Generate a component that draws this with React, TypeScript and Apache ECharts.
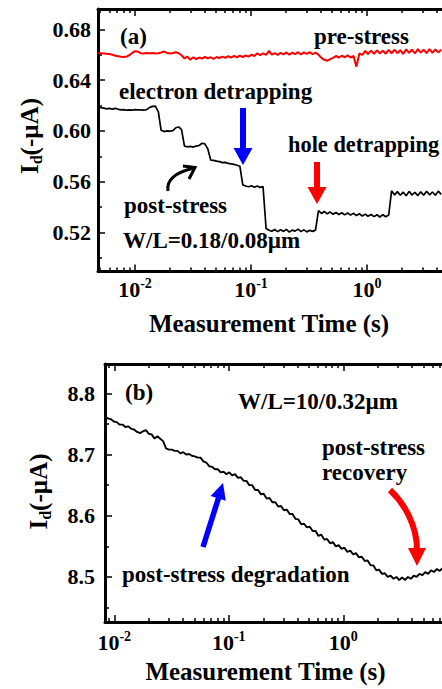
import React, { useEffect, useRef } from "react";
import * as echarts from "echarts";

// ---------- data (panel a) ----------
const TIME_A = [
  0.0048, 0.0051, 0.0054, 0.0057, 0.006, 0.0064, 0.0068, 0.0072, 0.0076, 0.008,
  0.0085, 0.009, 0.0095, 0.01, 0.0106, 0.0112, 0.0119, 0.0126, 0.0134, 0.0142,
  0.015, 0.0159, 0.0168, 0.0178, 0.0189, 0.02, 0.0212, 0.0225, 0.0238, 0.0252,
  0.0267, 0.0283, 0.03, 0.0318, 0.0337, 0.0357, 0.0378, 0.04, 0.0424, 0.045,
  0.0476, 0.0505, 0.0535, 0.0567, 0.06, 0.0636, 0.0674, 0.0714, 0.0757, 0.0802,
  0.085, 0.09, 0.0954, 0.101, 0.107, 0.1134, 0.12, 0.127, 0.135, 0.143,
  0.151, 0.16, 0.17, 0.18, 0.191, 0.202, 0.214, 0.227, 0.24, 0.255,
  0.27, 0.286, 0.303, 0.321, 0.34, 0.36, 0.382, 0.405, 0.429, 0.454,
  0.481, 0.51, 0.54, 0.573, 0.607, 0.643, 0.682, 0.722, 0.766, 0.811,
  0.86, 0.911, 0.966, 1.02, 1.085, 1.15, 1.22, 1.29, 1.37, 1.45,
  1.54, 1.63, 1.73, 1.83, 1.94, 2.05, 2.18, 2.31, 2.44, 2.59,
  2.75, 2.91, 3.08, 3.27, 3.46, 3.67, 3.89, 4.12, 4.37,
];

const PRE_STRESS_A = [
  0.6612, 0.6611, 0.661, 0.6608, 0.6606, 0.66, 0.6592, 0.6588, 0.6584, 0.6582,
  0.6586, 0.6598, 0.6615, 0.6628, 0.6625, 0.6612, 0.661, 0.6614, 0.6611, 0.6613,
  0.661, 0.6612, 0.6618, 0.6625, 0.6614, 0.661, 0.6613, 0.662, 0.6612, 0.6596,
  0.657, 0.6585, 0.656, 0.658, 0.6565, 0.6578, 0.657, 0.6582, 0.6572, 0.658,
  0.6568, 0.6582, 0.6574, 0.6585, 0.6576, 0.6588, 0.6578, 0.659, 0.658, 0.6592,
  0.6582, 0.6594, 0.6585, 0.66, 0.659, 0.6612, 0.6596, 0.661, 0.6598, 0.663,
  0.66, 0.6612, 0.6598, 0.6615, 0.6602, 0.6618, 0.66, 0.6616, 0.6604, 0.662,
  0.6602, 0.6618, 0.6606, 0.662, 0.6604, 0.6616, 0.66, 0.6575, 0.656, 0.6552,
  0.6565, 0.6575, 0.659, 0.6578, 0.6592, 0.658, 0.6595, 0.6578, 0.659, 0.6505,
  0.661, 0.6598, 0.663, 0.6605, 0.6632, 0.6606, 0.6635, 0.661, 0.6632, 0.6608,
  0.6638, 0.661, 0.664, 0.6612, 0.6636, 0.6606, 0.6642, 0.6614, 0.664, 0.661,
  0.6644, 0.6616, 0.664, 0.6612, 0.6645, 0.6615, 0.6642, 0.6618, 0.664,
];

const POST_STRESS_A = [
  0.6189, 0.6184, 0.6179, 0.6174, 0.6177, 0.6172, 0.6178, 0.617, 0.6166, 0.6168,
  0.6163, 0.6166, 0.6164, 0.6167, 0.6165, 0.6166, 0.6163, 0.6168, 0.6185, 0.6193,
  0.6195, 0.615, 0.6005, 0.5995, 0.6, 0.5998, 0.6002, 0.6025, 0.6031, 0.601,
  0.588, 0.5875, 0.5878, 0.5873, 0.588, 0.5885, 0.5903, 0.5898, 0.586, 0.577,
  0.5768, 0.5762, 0.5758, 0.575, 0.5752, 0.5744, 0.574, 0.5736, 0.573, 0.5722,
  0.5575, 0.5566, 0.556, 0.5568, 0.5557, 0.5566, 0.5555, 0.5562, 0.5232, 0.5218,
  0.521, 0.5224, 0.5207, 0.5221, 0.5209, 0.5225, 0.5204, 0.5219, 0.5211, 0.5227,
  0.5207, 0.5221, 0.5205, 0.5217, 0.5209, 0.5219, 0.5372, 0.535, 0.5366, 0.5347,
  0.5362, 0.5344, 0.5358, 0.5342, 0.5356, 0.5339, 0.5354, 0.5337, 0.5351, 0.5334,
  0.5348, 0.533, 0.5345, 0.5328, 0.5342, 0.5325, 0.534, 0.5322, 0.534, 0.5324,
  0.5338, 0.5528, 0.5496, 0.5522, 0.5493, 0.5518, 0.549, 0.5524, 0.5495, 0.5516,
  0.5491, 0.5521, 0.5494, 0.5525, 0.5497, 0.5519, 0.5493, 0.5526, 0.55,
];

// ---------- data (panel b) ----------
const TIME_B = [
  0.0083, 0.0088, 0.0093, 0.0099, 0.0105, 0.0111, 0.0118, 0.0125, 0.0133, 0.0141,
  0.0149, 0.0158, 0.0168, 0.0178, 0.0189, 0.02, 0.0212, 0.0225, 0.0238, 0.0252,
  0.0267, 0.0283, 0.03, 0.0318, 0.0337, 0.0357, 0.0378, 0.04, 0.0424, 0.045,
  0.0476, 0.0505, 0.0535, 0.0567, 0.06, 0.0636, 0.0674, 0.0714, 0.0757, 0.0802,
  0.085, 0.09, 0.0954, 0.101, 0.107, 0.1134, 0.12, 0.127, 0.135, 0.143,
  0.151, 0.16, 0.17, 0.18, 0.191, 0.202, 0.214, 0.227, 0.24, 0.255,
  0.27, 0.286, 0.303, 0.321, 0.34, 0.36, 0.382, 0.405, 0.429, 0.454,
  0.481, 0.51, 0.54, 0.573, 0.607, 0.643, 0.682, 0.722, 0.766, 0.811,
  0.86, 0.911, 0.966, 1.02, 1.085, 1.15, 1.22, 1.29, 1.37, 1.45,
  1.54, 1.63, 1.73, 1.83, 1.94, 2.05, 2.18, 2.31, 2.44, 2.59,
  2.75, 2.91, 3.08, 3.27, 3.46, 3.67, 3.89, 4.12, 4.37, 4.63,
  4.91, 5.2, 5.51, 5.84, 6.19, 6.56, 6.95, 7.3,
];

const CURRENT_B = [
  8.762, 8.759, 8.758, 8.754, 8.753, 8.749, 8.749, 8.745, 8.746, 8.742,
  8.741, 8.737, 8.735, 8.738, 8.74, 8.734, 8.733, 8.726, 8.73, 8.726,
  8.722, 8.71, 8.708, 8.708, 8.706, 8.706, 8.702, 8.704, 8.7, 8.701,
  8.698, 8.697, 8.695, 8.695, 8.689, 8.687, 8.681, 8.68, 8.676, 8.676,
  8.671, 8.672, 8.668, 8.671, 8.666, 8.668, 8.662, 8.663, 8.657, 8.657,
  8.65, 8.65, 8.642, 8.642, 8.635, 8.636, 8.628, 8.629, 8.622, 8.622,
  8.615, 8.616, 8.609, 8.61, 8.603, 8.603, 8.595, 8.594, 8.586, 8.587,
  8.581, 8.582, 8.575, 8.575, 8.567, 8.569, 8.561, 8.562, 8.555, 8.557,
  8.55, 8.552, 8.546, 8.548, 8.541, 8.543, 8.537, 8.539, 8.532, 8.533,
  8.526, 8.527, 8.519, 8.519, 8.511, 8.512, 8.505, 8.506, 8.5, 8.502,
  8.497, 8.5, 8.495, 8.499, 8.495, 8.5, 8.497, 8.502, 8.5, 8.505,
  8.503, 8.508, 8.505, 8.511, 8.508, 8.513, 8.51, 8.514,
];

// ---------- axis ticks ----------
const X_MAJOR_EXP = [-2, -1, 0];
const Y_MAJOR_A = [0.52, 0.56, 0.6, 0.64, 0.68];
const Y_MINOR_A = [0.5, 0.54, 0.58, 0.62, 0.66];
const Y_MAJOR_B = [8.5, 8.6, 8.7, 8.8];
const Y_MINOR_B = [8.45, 8.55, 8.65, 8.75];

const FONT = '"Liberation Serif", "Times New Roman", serif';

function minorLogTicks(min: number, max: number): number[] {
  const out: number[] = [];
  for (let e = -3; e <= 1; e++) {
    for (let k = 2; k <= 9; k++) {
      const v = Math.log10(k) + e;
      if (v > min && v < max) out.push(v);
    }
  }
  return out;
}

function xAxesFor(gridIndex: number, min: number, max: number, labelMargin: number) {
  const minor = minorLogTicks(min, max);
  const base = {
    type: "value",
    gridIndex,
    min,
    max,
    splitLine: { show: false },
  };
  return [
    {
      ...base,
      position: "bottom",
      axisLine: { show: true, onZero: false, lineStyle: { color: "#000", width: 3 } },
      axisTick: { show: true, inside: true, length: 7, lineStyle: { color: "#000", width: 1.5 }, customValues: X_MAJOR_EXP },
      axisLabel: {
        show: true,
        customValues: X_MAJOR_EXP,
        margin: labelMargin,
        formatter: (v: number) => `{b|10}{s|${Math.round(v)}}`,
        rich: {
          b: { fontSize: 22, fontWeight: "bold", fontFamily: FONT, color: "#000", lineHeight: 26 },
          s: { fontSize: 14, fontWeight: "bold", fontFamily: FONT, color: "#000", lineHeight: 14, verticalAlign: "top" },
        },
      },
    },
    {
      ...base,
      position: "bottom",
      axisLine: { show: false, onZero: false },
      axisTick: { show: true, inside: true, length: 4, lineStyle: { color: "#000", width: 1.5 }, customValues: minor },
      axisLabel: { show: false },
    },
    {
      ...base,
      position: "top",
      axisLine: { show: true, onZero: false, lineStyle: { color: "#000", width: 3 } },
      axisTick: { show: true, inside: true, length: 7, lineStyle: { color: "#000", width: 1.5 }, customValues: X_MAJOR_EXP },
      axisLabel: { show: false },
    },
    {
      ...base,
      position: "top",
      axisLine: { show: false, onZero: false },
      axisTick: { show: true, inside: true, length: 4, lineStyle: { color: "#000", width: 1.5 }, customValues: minor },
      axisLabel: { show: false },
    },
  ];
}

function yAxesFor(gridIndex: number, min: number, max: number, major: number[], minor: number[], digits: number, margin: number) {
  const base = { type: "value", gridIndex, min, max, position: "left", splitLine: { show: false } };
  return [
    {
      ...base,
      axisLine: { show: true, onZero: false, lineStyle: { color: "#000", width: 3 } },
      axisTick: { show: true, inside: true, length: 7, lineStyle: { color: "#000", width: 1.5 }, customValues: major },
      axisLabel: {
        show: true,
        customValues: major,
        margin,
        formatter: (v: number) => v.toFixed(digits),
        fontSize: 22,
        fontWeight: "bold",
        fontFamily: FONT,
        color: "#000",
      },
    },
    {
      ...base,
      axisLine: { show: false, onZero: false },
      axisTick: { show: true, inside: true, length: 4, lineStyle: { color: "#000", width: 1.5 }, customValues: minor },
      axisLabel: { show: false },
    },
  ];
}

function label(text: string, x: number, y: number, size = 23, align = "left") {
  return {
    type: "text",
    x,
    y,
    z: 10,
    style: {
      text,
      fontSize: size,
      fontWeight: "bold",
      fontFamily: FONT,
      fill: "#000",
      align,
      verticalAlign: "middle",
    },
  };
}

function yTitle(x: number, y: number) {
  return {
    type: "text",
    x,
    y,
    rotation: Math.PI / 2,
    z: 10,
    style: {
      text: "{a|I}{b|d}{a|(-µA)}",
      align: "center",
      verticalAlign: "middle",
      fill: "#000",
      rich: {
        a: { fontSize: 25, fontWeight: "bold", fontFamily: FONT, fill: "#000", lineHeight: 30 },
        b: { fontSize: 16, fontWeight: "bold", fontFamily: FONT, fill: "#000", lineHeight: 16, verticalAlign: "bottom" },
      },
    },
  };
}

export default function App() {
  const ref = useRef<HTMLDivElement>(null);

  useEffect(() => {
    if (!ref.current) return;
    const chart = echarts.init(ref.current, null, { renderer: "svg" });

    const minA = -2.319, maxA = 0.647;
    const minB = -2.081, maxB = 0.862;

    const option = {
      animation: false,
      backgroundColor: "#fff",
      grid: [
        { left: 98, top: 9, width: 344, height: 262.5 },
        { left: 105, top: 364, width: 337, height: 258 },
      ],
      xAxis: [...xAxesFor(0, minA, maxA, 5), ...xAxesFor(1, minB, maxB, 7)],
      yAxis: [
        ...yAxesFor(0, 0.4893, 0.696, Y_MAJOR_A, Y_MINOR_A, 2, 7),
        ...yAxesFor(1, 8.4264, 8.848, Y_MAJOR_B, Y_MINOR_B, 1, 10),
      ],
      series: [
        {
          name: "pre-stress",
          type: "line",
          xAxisIndex: 0,
          yAxisIndex: 0,
          data: TIME_A.map((t, i) => [Math.log10(t), PRE_STRESS_A[i]]),
          showSymbol: false,
          symbol: "none",
          lineStyle: { color: "#ff0000", width: 2 },
        },
        {
          name: "post-stress",
          type: "line",
          xAxisIndex: 0,
          yAxisIndex: 0,
          data: TIME_A.map((t, i) => [Math.log10(t), POST_STRESS_A[i]]),
          showSymbol: false,
          symbol: "none",
          lineStyle: { color: "#000", width: 1.7 },
        },
        {
          name: "b",
          type: "line",
          xAxisIndex: 4,
          yAxisIndex: 2,
          data: TIME_B.map((t, i) => [Math.log10(t), CURRENT_B[i]]),
          showSymbol: false,
          symbol: "none",
          lineStyle: { color: "#000", width: 1.9 },
        },
      ],
      graphic: [
        // panel (a) texts
        label("(a)", 120, 36.5),
        label("pre-stress", 314, 36),
        label("electron detrapping", 119, 91.5),
        label("hole detrapping", 288, 144, 22.4),
        label("post-stress", 124, 205),
        label("W/L=0.18/0.08µm", 123, 240.5),
        label("Measurement Time (s)", 269, 323, 25, "center"),
        yTitle(29, 136),
        // panel (b) texts
        label("(b)", 125, 392),
        label("W/L=10/0.32µm", 238, 401),
        label("post-stress", 322, 447),
        label("recovery", 322, 472),
        label("post-stress degradation", 122, 574),
        label("Measurement Time (s)", 265.5, 671.5, 25, "center"),
        yTitle(38, 491.5),
        // arrows panel (a)
        { type: "line", z: 9, shape: { x1: 243, y1: 108, x2: 243, y2: 150 }, style: { stroke: "#0000ff", lineWidth: 6 } },
        { type: "polygon", z: 9, shape: { points: [[233.5, 148], [252.5, 148], [243, 165]] }, style: { fill: "#0000ff" } },
        { type: "line", z: 9, shape: { x1: 317, y1: 162, x2: 317, y2: 189 }, style: { stroke: "#ff0000", lineWidth: 6 } },
        { type: "polygon", z: 9, shape: { points: [[307.5, 187], [326.5, 187], [317, 204]] }, style: { fill: "#ff0000" } },
        {
          type: "bezierCurve",
          z: 9,
          shape: { x1: 168, y1: 191, cpx1: 166, cpy1: 179, cpx2: 177, cpy2: 172, x2: 194, y2: 168 },
          style: { stroke: "#000", lineWidth: 3, fill: null },
        },
        { type: "polyline", z: 9, shape: { points: [[183, 166], [195, 167.5], [189, 179]] }, style: { stroke: "#000", lineWidth: 3, fill: null } },
        // arrows panel (b)
        { type: "line", z: 9, shape: { x1: 203, y1: 547, x2: 218.5, y2: 498 }, style: { stroke: "#0000ff", lineWidth: 5.5 } },
        { type: "polygon", z: 9, shape: { points: [[223, 483], [210.6, 495.9], [225.8, 500.7]] }, style: { fill: "#0000ff" } },
        {
          type: "bezierCurve",
          z: 9,
          shape: { x1: 390, y1: 490, cpx1: 404, cpy1: 503, cpx2: 417, cpy2: 525, x2: 417, y2: 550 },
          style: { stroke: "#ff0000", lineWidth: 6, fill: null },
        },
        { type: "polygon", z: 9, shape: { points: [[408, 548], [426, 548], [417, 566]] }, style: { fill: "#ff0000" } },
      ],
    };

    chart.setOption(option as any);
    return () => chart.dispose();
  }, []);

  return (
    <div
      ref={ref}
      style={{ position: "absolute", left: 0, top: 0, width: 442, height: 689, background: "#fff" }}
    />
  );
}
